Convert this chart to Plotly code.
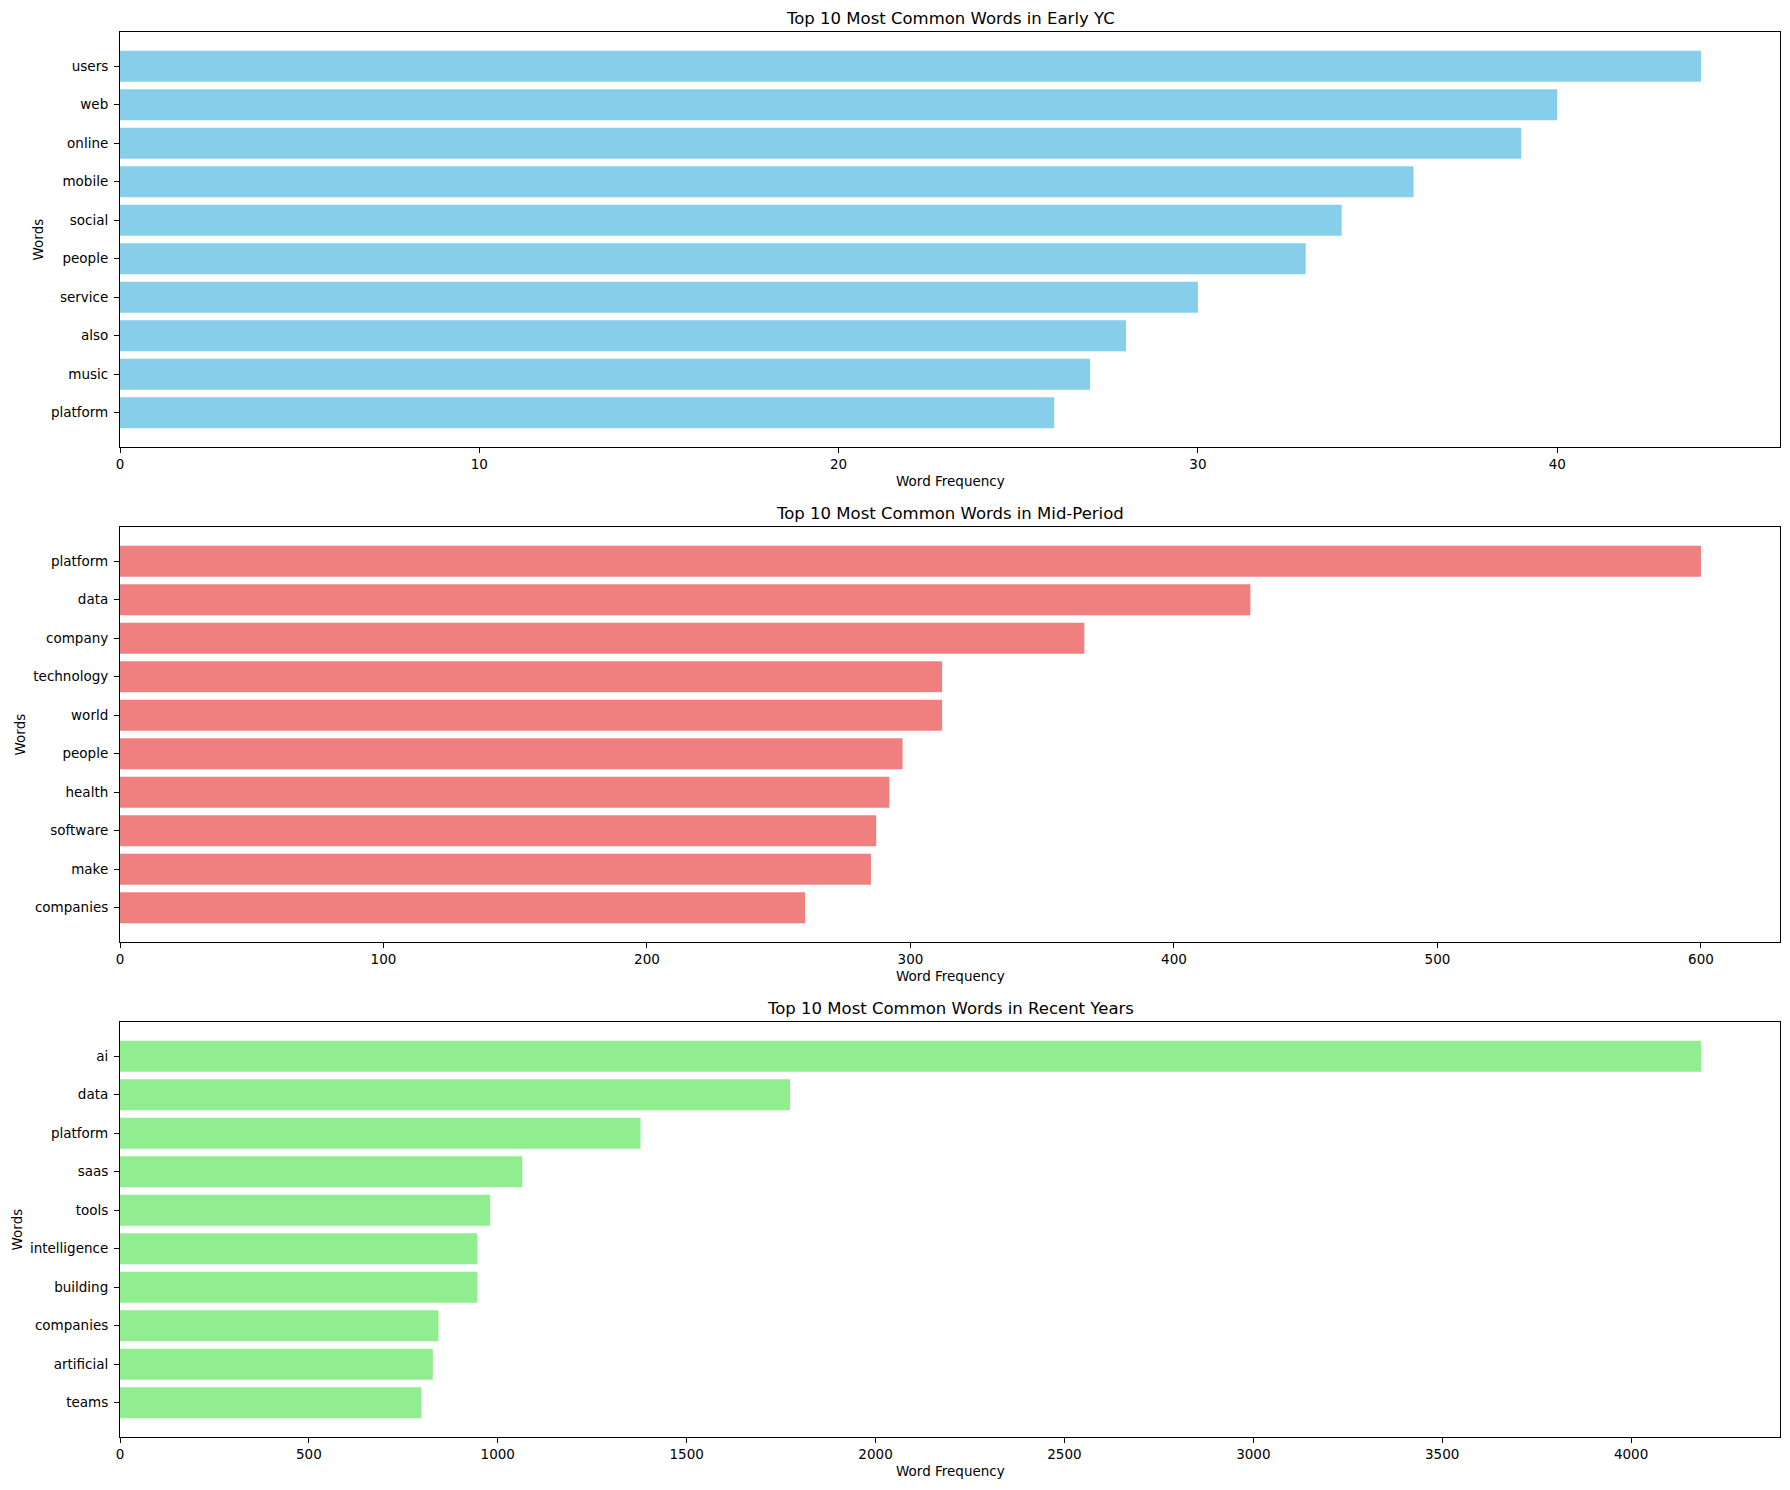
import plotly.graph_objects as go

early_words = ["users", "web", "online", "mobile", "social", "people", "service", "also", "music", "platform"]
early_counts = [44, 40, 39, 36, 34, 33, 30, 28, 27, 26]

mid_words = ["platform", "data", "company", "technology", "world", "people", "health", "software", "make", "companies"]
mid_counts = [600, 429, 366, 312, 312, 297, 292, 287, 285, 260]

recent_words = ["ai", "data", "platform", "saas", "tools", "intelligence", "building", "companies", "artificial", "teams"]
recent_counts = [4185, 1774, 1378, 1065, 980, 946, 946, 843, 828, 798]

titles = ["Top 10 Most Common Words in Early YC",
          "Top 10 Most Common Words in Mid-Period",
          "Top 10 Most Common Words in Recent Years"]
colors = ["#87CEEB", "#F08080", "#90EE90"]
dticks = [10, 100, 500]

W, H = 1790, 1490
x0, x1 = 120, 1780
ybands = [(32, 447), (527, 942), (1022, 1437)]
ylabel_x = [38, 19, 16]

FONT = "DejaVu Sans"
fig = go.Figure()
data = [(early_words, early_counts), (mid_words, mid_counts), (recent_words, recent_counts)]
annotations = []
layout = {}
for i, ((words, counts), col) in enumerate(zip(data, colors)):
    n = i + 1
    xa = "x" if n == 1 else f"x{n}"
    ya = "y" if n == 1 else f"y{n}"
    fig.add_trace(go.Bar(x=counts, y=words, orientation="h", marker=dict(color=col, line=dict(width=0)),
                         width=0.8, xaxis=xa, yaxis=ya, showlegend=False))
    top, bot = ybands[i]
    dom_y = [1 - bot / H, 1 - top / H]
    ax_common = dict(showline=True, linecolor="black", linewidth=1.1, mirror=True,
                     ticks="outside", ticklen=5, tickwidth=1, tickcolor="black",
                     showgrid=False, zeroline=False, automargin=False,
                     tickfont=dict(family=FONT, size=13.5, color="black"))
    layout["xaxis" if n == 1 else f"xaxis{n}"] = dict(
        domain=[x0 / W, x1 / W], anchor=ya, range=[0, max(counts) * 1.05],
        dtick=dticks[i], tick0=0, **ax_common)
    layout["yaxis" if n == 1 else f"yaxis{n}"] = dict(
        domain=dom_y, anchor=xa, range=[len(words) - 1 + 0.89, -0.89],
        type="category", ticklabelstandoff=3, **ax_common)
    annotations.append(dict(text=titles[i], x=(x0 + x1) / 2 / W, y=1 - (top - 2) / H,
                            xref="paper", yref="paper", xanchor="center", yanchor="bottom",
                            showarrow=False, font=dict(family=FONT, size=16.5, color="black")))
    annotations.append(dict(text="Word Frequency", x=(x0 + x1) / 2 / W, y=1 - (bot + 34) / H,
                            xref="paper", yref="paper", xanchor="center", yanchor="middle",
                            showarrow=False, font=dict(family=FONT, size=13.5, color="black")))
    annotations.append(dict(text="Words", x=ylabel_x[i] / W, y=1 - (top + bot) / 2 / H,
                            xref="paper", yref="paper", xanchor="center", yanchor="middle",
                            textangle=-90, showarrow=False,
                            font=dict(family=FONT, size=13.5, color="black")))

fig.update_layout(width=W, height=H, margin=dict(l=0, r=0, t=0, b=0, pad=0),
                  template="none",
                  paper_bgcolor="white", plot_bgcolor="white",
                  annotations=annotations, bargap=0.2, **layout)
fig.write_html("out.html")
